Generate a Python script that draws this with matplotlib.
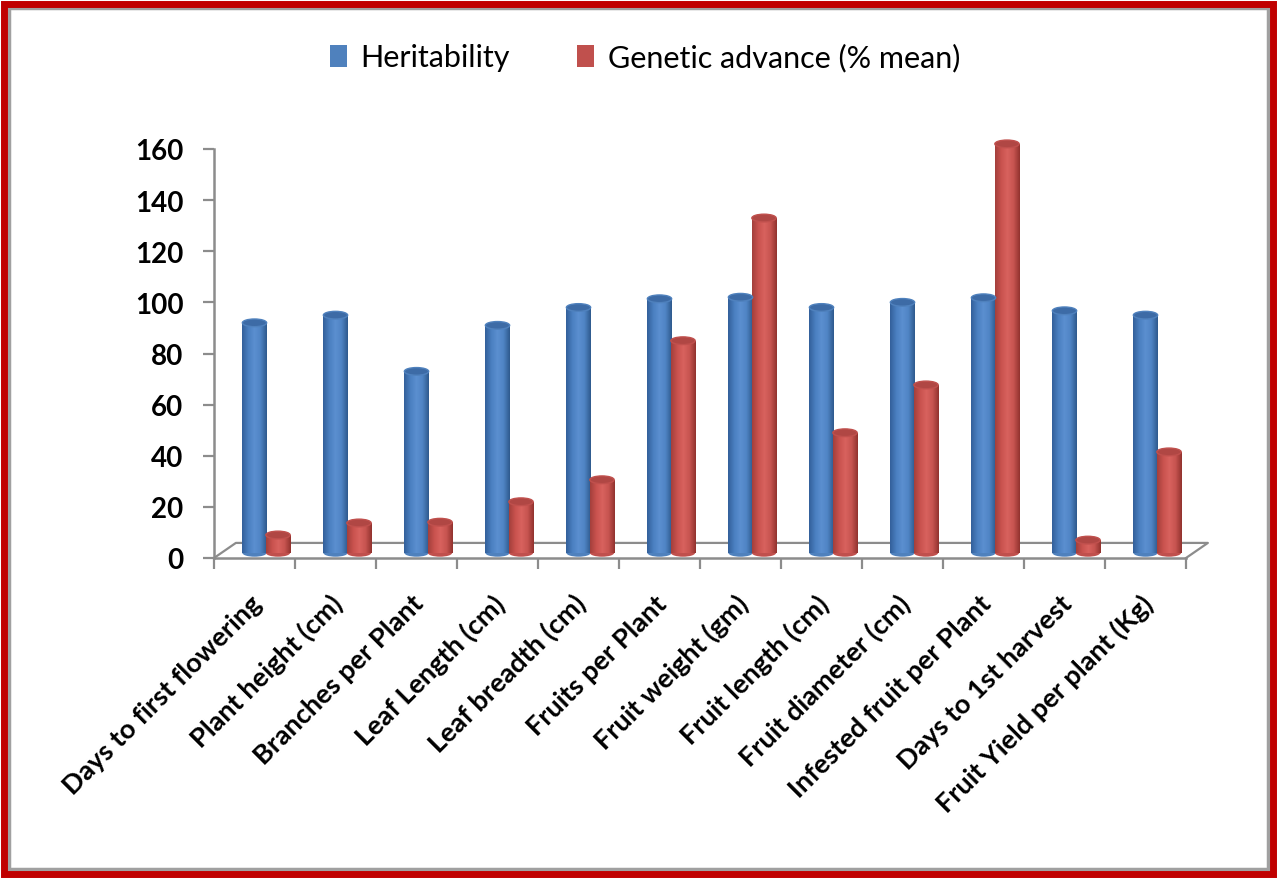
import numpy as np
import matplotlib
matplotlib.use("Agg")
import matplotlib.pyplot as plt
from matplotlib.patches import Rectangle, Ellipse, Patch
from matplotlib.colors import LinearSegmentedColormap
import matplotlib.transforms as mtransforms

plt.rcParams['font.family'] = ['Lato', 'DejaVu Sans']

# data
categories = ['Days to first flowering', 'Plant height (cm)', 'Branches per Plant',
              'Leaf Length (cm)', 'Leaf breadth (cm)', 'Fruits per Plant',
              'Fruit weight (gm)', 'Fruit length (cm)', 'Fruit diameter (cm)',
              'Infested fruit per Plant', 'Days to 1st harvest', 'Fruit Yield per plant (Kg)']
heritability = [90, 93, 71, 89, 96, 99.4, 100, 96, 98, 99.8, 94.7, 93]
genetic_advance = [7, 11.7, 12, 20, 28.6, 83, 131, 47, 65.7, 160, 5, 39.5]
series_names = ['Heritability', 'Genetic advance (% mean)']
yticks = [0, 20, 40, 60, 80, 100, 120, 140, 160]

# styles
blue = '#4F81BD'
red = '#C0504D'
blue_cmap = LinearSegmentedColormap.from_list('b', ['#33609a', '#4a7fc0', '#5b8fd0', '#4f84c4', '#2f5a8e'])
red_cmap = LinearSegmentedColormap.from_list('r', ['#a33f3c', '#c9524e', '#d8625e', '#c75450', '#92332f'])
grey = '#8c8c8c'

W, H = 1277, 879
fig = plt.figure(figsize=(W / 100, H / 100), dpi=100)
ax = fig.add_axes([214 / W, 1 - 559 / H, (1186 - 214) / W, (559 - 150) / H])

x = np.arange(len(categories))
bar_w = 0.30
base = 2.0        # depth offset of the bars above the front floor edge
cap_h = 3.0       # height of the elliptic cap in data units
ax.set_xlim(-0.5, len(categories) - 0.5)
ax.set_ylim(0, 160)


def draw_cylinders(xs, vals, color, cmap, dark):
    bars = ax.bar(xs, vals, width=bar_w, bottom=base, color=color, zorder=3,
                  clip_on=False, linewidth=0)
    grad = np.linspace(0, 1, 64).reshape(1, -1)
    for rect, v in zip(bars, vals):
        x0 = rect.get_x()
        im = ax.imshow(grad, cmap=cmap, aspect='auto', zorder=3.1,
                       extent=(x0, x0 + bar_w, base, base + v), clip_on=True)
        im.set_clip_path(rect)
        # bottom rounding
        ax.add_patch(Ellipse((x0 + bar_w / 2, base), bar_w, cap_h, facecolor=color,
                             edgecolor='none', zorder=2.9, clip_on=False))
        # top cap
        ax.add_patch(Ellipse((x0 + bar_w / 2, base + v), bar_w, cap_h, facecolor=dark,
                             edgecolor=color, linewidth=1.0, zorder=3.5, clip_on=False))


draw_cylinders(x + 0.0, heritability, blue, blue_cmap, '#3d6ba6')
draw_cylinders(x + 0.29, genetic_advance, red, red_cmap, '#b04744')

ax.set_xlim(-0.5, len(categories) - 0.5)
ax.set_ylim(0, 160)

# floor (3D base)
dx, dy = 0.27, 5.9
n = len(categories)
ax.plot([-0.5, -0.5 + dx, n - 0.5 + dx, n - 0.5], [0, dy, dy, 0], color=grey,
        linewidth=1.6, zorder=2, clip_on=False)

for s in ['top', 'right']:
    ax.spines[s].set_visible(False)
for s in ['left', 'bottom']:
    ax.spines[s].set_color(grey)
    ax.spines[s].set_linewidth(1.8)

ax.set_yticks(yticks)
ax.set_yticklabels([str(t) for t in yticks], fontsize=20, fontweight='bold')
ax.tick_params(axis='y', length=8, width=1.6, color=grey, pad=14)

ax.set_xticks(np.arange(-0.5, n, 1.0))
ax.set_xticklabels([])
ax.tick_params(axis='x', length=8, width=1.6, color=grey)

trans = mtransforms.blended_transform_factory(ax.transData, ax.transAxes)
for xi, lab in zip(x, categories):
    ax.text(xi + 0.04, -0.1, lab, transform=trans, rotation=45, ha='right', va='center',
            rotation_mode='anchor', fontsize=19.5, fontweight='bold', color='black')

handles = [Patch(facecolor=blue, edgecolor='none'), Patch(facecolor=red, edgecolor='none')]
fig.legend(handles, series_names, loc='center', bbox_to_anchor=(0.505, 0.934), ncol=2,
           frameon=False, fontsize=22, handlelength=0.55, handleheight=0.75,
           handletextpad=0.45, columnspacing=2.2)

# frame around the picture
fig.patches.append(Rectangle((9 / W, 9 / H), 1 - 18 / W, 1 - 18 / H, transform=fig.transFigure,
                             fill=False, edgecolor='#a0a0a0', linewidth=2.5))
fig.patches.append(Rectangle((3.5 / W, 4.5 / H), 1 - 8 / W, 1 - 9.5 / H, transform=fig.transFigure,
                             fill=False, edgecolor='#c00000', linewidth=5))

fig.savefig('out.png', dpi=100)
